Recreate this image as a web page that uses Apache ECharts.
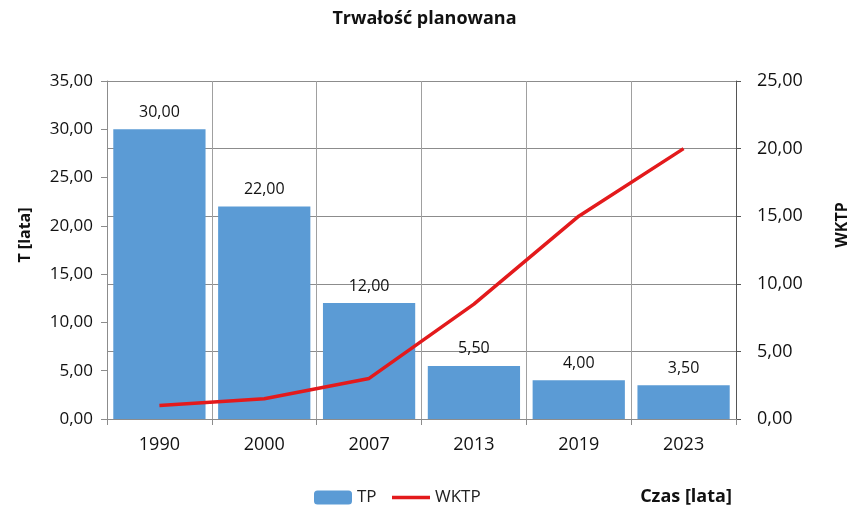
<!DOCTYPE html>
<html>
<head>
<meta charset="utf-8">
<script src="https://cdn.jsdelivr.net/npm/echarts@6/dist/echarts.min.js"></script>
<style>
  html, body { margin: 0; padding: 0; background: #fff; }
  #chart { width: 849px; height: 511px; }
</style>
</head>
<body>
<div id="chart"></div>
<script>
// Years of the planned-lifetime survey
const years = ['1990', '2000', '2007', '2013', '2019', '2023'];
// TP – planned lifetime in years (left axis)
const tpValues = [30.0, 22.0, 12.0, 5.5, 4.0, 3.5];
// WKTP – coefficient (right axis)
const wktpValues = [1.0, 1.5, 3.0, 8.5, 15.0, 20.0];
// Axis tick ranges
const leftTicks = { min: 0, max: 35, step: 5 };
const rightTicks = { min: 0, max: 25, step: 5 };

const FONT = '"Open Sans", "Noto Sans", sans-serif';
const fmt = v => v.toFixed(2).replace('.', ',');

const chart = echarts.init(document.getElementById('chart'), null, { renderer: 'canvas' });

chart.setOption({
  animation: false,
  backgroundColor: '#ffffff',
  textStyle: { fontFamily: FONT, color: '#000' },
  title: {
    text: 'Trwałość planowana',
    left: 'center',
    top: 5,
    textStyle: { fontFamily: FONT, fontSize: 18, fontWeight: 'bold', color: '#111' }
  },
  legend: [
    {
      data: ['TP'],
      left: 309,
      top: 484,
      itemWidth: 38,
      itemHeight: 14,
      textStyle: { fontFamily: FONT, fontSize: 17, color: '#222' }
    },
    {
      data: [{ name: 'WKTP', icon: 'rect' }],
      left: 387,
      top: 484,
      itemWidth: 38,
      itemHeight: 3.5,
      textStyle: { fontFamily: FONT, fontSize: 17, color: '#222' }
    }
  ],
  grid: { left: 107, right: 113, top: 81, bottom: 92, containLabel: false },
  xAxis: {
    type: 'category',
    data: years,
    axisLine: { lineStyle: { color: '#8c8c8c', width: 1 } },
    axisTick: { show: true, length: 6, lineStyle: { color: '#8c8c8c' } },
    axisLabel: { fontFamily: FONT, fontSize: 18, color: '#111', margin: 17 },
    splitLine: { show: true, lineStyle: { color: '#a0a0a0', width: 1 } }
  },
  yAxis: [
    {
      type: 'value',
      min: leftTicks.min,
      max: leftTicks.max,
      interval: leftTicks.step,
      position: 'left',
      axisLine: { show: true, lineStyle: { color: '#8c8c8c' } },
      axisTick: { show: true, length: 6, lineStyle: { color: '#8c8c8c' } },
      axisLabel: { fontFamily: FONT, fontSize: 17, color: '#111', margin: 14, formatter: fmt },
      splitLine: { show: false }
    },
    {
      type: 'value',
      min: rightTicks.min,
      max: rightTicks.max,
      interval: rightTicks.step,
      position: 'right',
      axisLine: { show: true, lineStyle: { color: '#555' } },
      axisTick: { show: true, length: 5, lineStyle: { color: '#555' } },
      axisLabel: { fontFamily: FONT, fontSize: 18, color: '#111', margin: 21, formatter: fmt },
      splitLine: { show: true, lineStyle: { color: '#8c8c8c', width: 1 } }
    }
  ],
  series: [
    {
      name: 'TP',
      type: 'bar',
      yAxisIndex: 0,
      data: tpValues,
      barCategoryGap: '12%',
      itemStyle: { color: '#5b9bd5' },
      label: {
        show: true,
        position: 'top',
        distance: 9,
        fontFamily: FONT,
        fontSize: 16,
        color: '#111',
        formatter: p => fmt(p.value)
      },
      z: 2
    },
    {
      name: 'WKTP',
      type: 'line',
      yAxisIndex: 1,
      data: wktpValues,
      symbol: 'none',
      lineStyle: { color: '#e31a1c', width: 3.5 },
      itemStyle: { color: '#e31a1c' },
      z: 5
    }
  ],
  graphic: [
    {
      type: 'text',
      x: 25,
      y: 235,
      rotation: Math.PI / 2,
      style: {
        text: 'T [lata]',
        fontFamily: FONT, fontSize: 16, fontWeight: 'bold', fill: '#111',
        align: 'center', verticalAlign: 'middle'
      }
    },
    {
      type: 'text',
      x: 842,
      y: 225,
      rotation: Math.PI / 2,
      style: {
        text: 'WKTP',
        fontFamily: FONT, fontSize: 16, fontWeight: 'bold', fill: '#111',
        align: 'center', verticalAlign: 'middle'
      }
    },
    {
      type: 'text',
      x: 686,
      y: 497,
      style: {
        text: 'Czas [lata]',
        fontFamily: FONT, fontSize: 18, fontWeight: 'bold', fill: '#111',
        align: 'center', verticalAlign: 'middle'
      }
    }
  ]
});
</script>
</body>
</html>
